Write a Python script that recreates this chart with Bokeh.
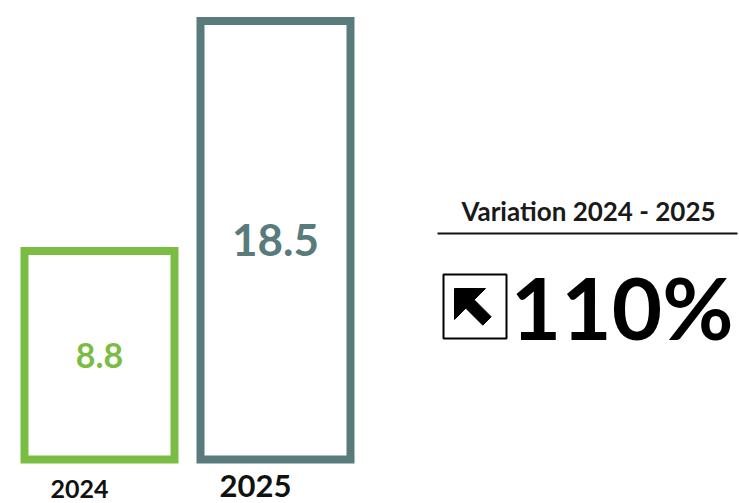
from bokeh.plotting import figure
from bokeh.models import Range1d, BoxAnnotation, PolyAnnotation, ColumnDataSource, Label
from bokeh.core.properties import value
from bokeh.embed import file_html
from bokeh.resources import INLINE

# ---- data ----
years = ["2024", "2025"]
values = [8.8, 18.5]
variation_title = "Variation 2024 - 2025"
variation_text = "110%"

# ---- styles ----
bar_colors = ["#7BBD43", "#597B7C"]
W, H = 739, 503
FONT = "Lato"

p = figure(width=W, height=H, x_range=Range1d(0, W), y_range=Range1d(0, H),
           output_backend="svg", toolbar_location=None, min_border=0,
           x_axis_location=None, y_axis_location=None)
p.grid.visible = False
p.outline_line_color = None
p.background_fill_color = "white"

# category / value scales
spacing = 176.0
first_center = 99.0
scale = 23.7
base_px = 459.0  # px from top where value 0 sits
p.extra_x_ranges = {"cat": Range1d(-first_center / spacing, (W - first_center) / spacing)}
p.extra_y_ranges = {"val": Range1d(-(H - base_px) / scale, base_px / scale)}

idx = list(range(len(years)))
src = ColumnDataSource(dict(idx=idx, val=values, color=bar_colors))

p.vbar(x="idx", top="val", bottom=0, width=150 / spacing, source=src,
       x_range_name="cat", y_range_name="val",
       fill_color="white", line_color="color", line_width=8, line_join="miter")

def Y(cy):
    return H - cy

# value labels inside bars
sizes = ["34px", "44px"]
for i in idx:
    s = ColumnDataSource(dict(x=[idx[i]], y=[values[i] / 2], t=[f"{values[i]:.1f}"]))
    p.text(x="x", y="y", text="t", source=s, x_range_name="cat", y_range_name="val",
           text_color=bar_colors[i], text_font=value(FONT), text_font_style="bold",
           text_font_size=sizes[i], text_align="center", text_baseline="middle")

# year labels
ysizes = ["25px", "31px"]
ycent = [488, 485]
for i in idx:
    s = ColumnDataSource(dict(x=[idx[i]], y=[Y(ycent[i])], t=[years[i]]))
    p.text(x="x", y="y", text="t", source=s, x_range_name="cat",
           x_offset=-20, text_color="#111111", text_font=value(FONT),
           text_font_style="bold", text_font_size=ysizes[i],
           text_align="center", text_baseline="middle")

# right panel (pixel coordinates)
p.add_layout(Label(x=588, y=Y(210), text=variation_title, text_align="center",
                   text_baseline="middle", text_font=FONT, text_font_style="bold",
                   text_font_size="26px", text_color="#1a1a1a"))
p.segment(x0=[437], y0=[Y(233)], x1=[737], y1=[Y(233)], line_color="#111111", line_width=2)

p.add_layout(Label(x=733, y=Y(306), text=variation_text, text_align="right",
                   text_baseline="middle", text_font=FONT, text_font_style="bold",
                   text_font_size="87px", text_color="#000000"))

p.add_layout(BoxAnnotation(left=443, right=506, top=Y(274), bottom=Y(338),
                           fill_color=None, fill_alpha=0, line_color="#000000",
                           line_alpha=1, line_width=2))

tx, ty = 454, 288
pts = [(0, 0), (31, 0), (19.7, 11.3), (36.7, 28.3), (28.3, 36.7), (11.3, 19.7), (0, 31)]
p.add_layout(PolyAnnotation(xs=[tx + a for a, b in pts], ys=[Y(ty + b) for a, b in pts],
                            fill_color="#000000", fill_alpha=1, line_color="#000000",
                            line_alpha=1, line_width=1))

open("out.html", "w").write(file_html(p, INLINE))
